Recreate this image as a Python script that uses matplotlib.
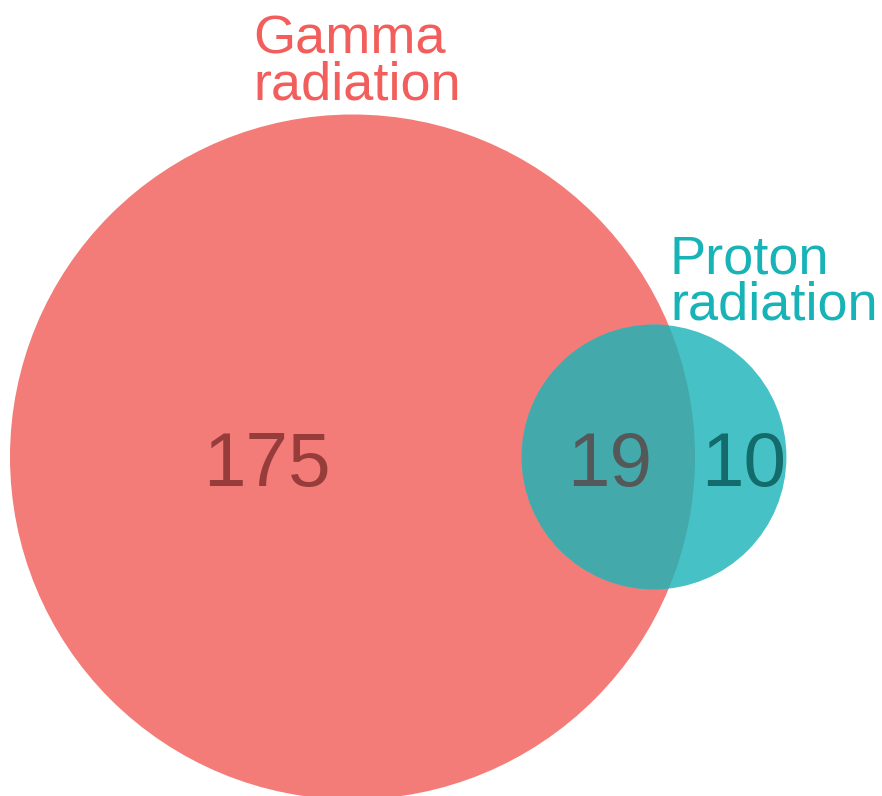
import numpy as np
import matplotlib.pyplot as plt
from matplotlib.patches import Circle

# Venn counts
set_names = ['Gamma\nradiation', 'Proton\nradiation']
only_gamma = 175
both = 19
only_proton = 10

fill_colors = ['#F47C78', '#46C2C6']
overlap_color = '#44A9AA'
label_colors = ['#F15E5C', '#17B3B7']
count_colors = ['#963C3A', '#545859', '#136B6C']

W, H = 882, 796
fig = plt.figure(figsize=(W / 100, H / 100), dpi=100)
ax = fig.add_axes([0, 0, 1, 1])
ax.set_xlim(0, W)
ax.set_ylim(H, 0)
ax.set_aspect('equal')
ax.axis('off')

# radius proportional to sqrt of set size
scale = 342.5 / np.sqrt(only_gamma + both)
r1 = scale * np.sqrt(only_gamma + both)
r2 = scale * np.sqrt(only_proton + both)
cy = 457
c1 = (352.5, cy)
c2 = (654, cy)

big = Circle(c1, r1, facecolor=fill_colors[0], edgecolor='none')
small = Circle(c2, r2, facecolor=fill_colors[1], edgecolor='none')
ax.add_patch(big)
ax.add_patch(small)
inter = Circle(c2, r2, facecolor=overlap_color, edgecolor='none')
ax.add_patch(inter)
inter.set_clip_path(big)

font = 'Liberation Sans'
num_size = 55
base = 486
ax.text(267, base, str(only_gamma), ha='center', va='baseline', fontsize=num_size,
        color=count_colors[0], family=font)
ax.text(610, base, str(both), ha='center', va='baseline', fontsize=num_size,
        color=count_colors[1], family=font)
ax.text(744, base, str(only_proton), ha='center', va='baseline', fontsize=num_size,
        color=count_colors[2], family=font)

lab_size = 39
for name, col, x, y0 in [(set_names[0], label_colors[0], 253, 53),
                         (set_names[1], label_colors[1], 670, 273)]:
    for i, line in enumerate(name.split('\n')):
        ax.text(x, y0 + i * 47, line, ha='left', va='baseline', fontsize=lab_size,
                color=col, family=font)

fig.savefig('out.png', dpi=100)
